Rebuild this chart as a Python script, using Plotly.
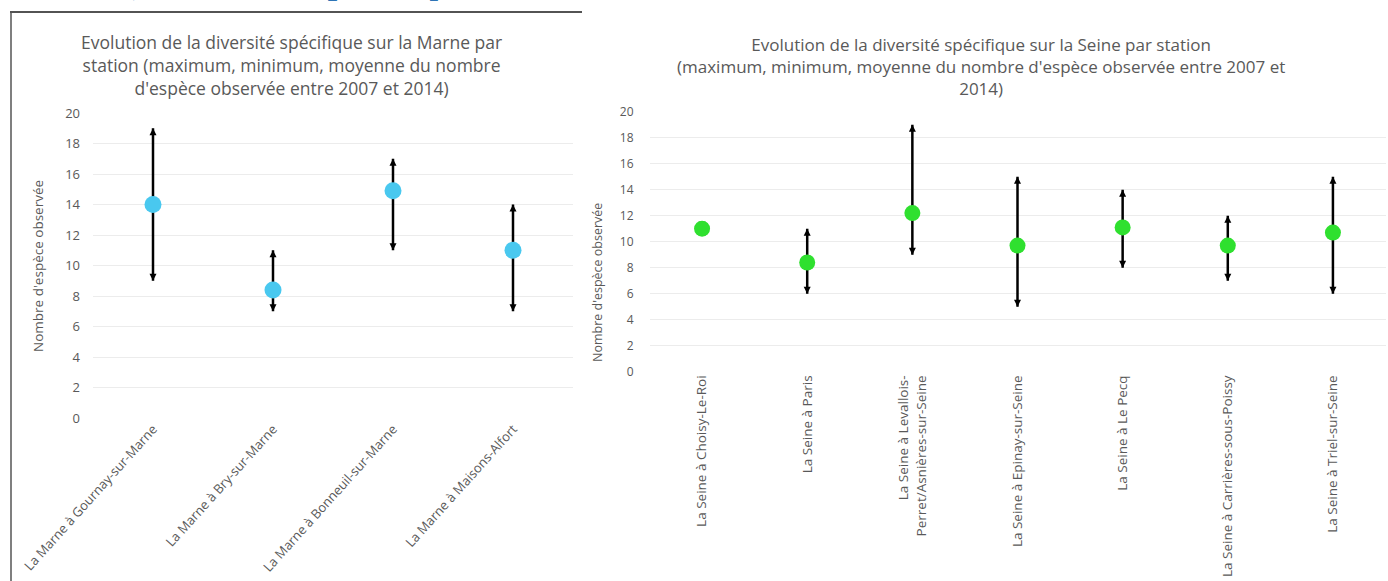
import plotly.graph_objects as go

# ---------------- data ----------------
marne_stations = [
    "La Marne à Gournay-sur-Marne",
    "La Marne à Bry-sur-Marne",
    "La Marne à Bonneuil-sur-Marne",
    "La Marne à Maisons-Alfort",
]
marne_mean = [14.0, 8.4, 14.9, 11.0]
marne_min = [9, 7, 11, 7]
marne_max = [19, 11, 17, 14]

seine_stations = [
    "La Seine à Choisy-Le-Roi",
    "La Seine à Paris",
    "La Seine à Levallois-<br>Perret/Asnières-sur-Seine",
    "La Seine à Epinay-sur-Seine",
    "La Seine à Le Pecq",
    "La Seine à Carrières-sous-Poissy",
    "La Seine à Triel-sur-Seine",
]
seine_mean = [11.0, 8.4, 12.2, 9.7, 11.1, 9.7, 10.7]
seine_min = [11, 6, 9, 5, 8, 7, 6]
seine_max = [11, 11, 19, 15, 14, 12, 15]

y_ticks = [0, 2, 4, 6, 8, 10, 12, 14, 16, 18, 20]

title_marne = ("Evolution de la diversité spécifique sur la Marne par<br>"
               "station (maximum, minimum, moyenne du nombre<br>"
               "d'espèce observée entre 2007 et 2014)")
title_seine = ("Evolution de la diversité spécifique sur la Seine par station<br>"
               "(maximum, minimum, moyenne du nombre d'espèce observée entre 2007 et<br>"
               "2014)")
y_title = "Nombre d'espèce observée"
heading = "b) Diversité spécifique"

FONT = "Open Sans"
GRAY = "#595959"
W, H = 1388, 581


def segs(cats, lo, hi):
    xs, ys = [], []
    for c, a, b in zip(cats, lo, hi):
        xs += [c, c, None]
        ys += [a, b, None]
    return xs, ys


fig = go.Figure()


def add_panel(cats, mean, lo, hi, color, xa, ya, msize):
    xs, ys = segs(cats, lo, hi)
    fig.add_trace(go.Scatter(x=xs, y=ys, mode="lines", xaxis=xa, yaxis=ya,
                             line=dict(color="black", width=2.5),
                             showlegend=False, hoverinfo="skip"))
    fig.add_trace(go.Scatter(x=cats, y=hi, mode="markers", xaxis=xa, yaxis=ya,
                             marker=dict(symbol="arrow-up", size=7, color="black"),
                             showlegend=False))
    fig.add_trace(go.Scatter(x=cats, y=lo, mode="markers", xaxis=xa, yaxis=ya,
                             marker=dict(symbol="arrow-down", size=7, color="black"),
                             showlegend=False))
    fig.add_trace(go.Scatter(x=cats, y=mean, mode="markers", xaxis=xa, yaxis=ya,
                             marker=dict(symbol="circle", size=msize, color=color),
                             showlegend=False))


add_panel(marne_stations, marne_mean, marne_min, marne_max, "#49C8EF", "x", "y", 17)
add_panel(seine_stations, seine_mean, seine_min, seine_max, "#2FE02F", "x2", "y2", 16)


def px_x(v):
    return v / W


def px_y(v):
    return 1 - v / H


def ax_common(size):
    return dict(showline=False, zeroline=False, ticks="", automargin=False,
                tickfont=dict(family=FONT, size=size, color=GRAY))


fig.update_layout(
    width=W, height=H,
    margin=dict(l=0, r=0, t=0, b=0, autoexpand=False),
    paper_bgcolor="white", plot_bgcolor="white",
    font=dict(family=FONT, color=GRAY),
    xaxis=dict(domain=[px_x(93), px_x(573)], anchor="y", type="category",
               range=[-0.5, len(marne_stations) - 0.5],
               showgrid=False, tickangle=-48, **ax_common(13)),
    yaxis=dict(domain=[px_y(418), px_y(113)], anchor="x", range=[0, 20],
               tickvals=y_ticks, showgrid=True, gridcolor="#ECECEC", gridwidth=1,
               ticklabelstandoff=12, **ax_common(13)),
    xaxis2=dict(domain=[px_x(649.5), px_x(1385.5)], anchor="y2", type="category",
                range=[-0.5, len(seine_stations) - 0.5],
                showgrid=False, tickangle=-90, **ax_common(13.5)),
    yaxis2=dict(domain=[px_y(371.7), px_y(111.7)], anchor="x2", range=[0, 20],
                tickvals=y_ticks, showgrid=True, gridcolor="#ECECEC", gridwidth=1,
                ticklabelstandoff=15, **ax_common(12)),
)

ann = [
    dict(text=title_marne, x=px_x(291), y=px_y(28), xref="paper", yref="paper",
         xanchor="center", yanchor="top", showarrow=False,
         font=dict(family=FONT, size=17.5, color=GRAY)),
    dict(text=title_seine, x=px_x(981), y=px_y(31), xref="paper", yref="paper",
         xanchor="center", yanchor="top", showarrow=False,
         font=dict(family=FONT, size=17, color=GRAY)),
    dict(text=y_title, x=px_x(38), y=px_y(266), xref="paper", yref="paper",
         textangle=-90, showarrow=False, xanchor="center", yanchor="middle",
         font=dict(family=FONT, size=13.5, color=GRAY)),
    dict(text=y_title, x=px_x(597), y=px_y(283), xref="paper", yref="paper",
         textangle=-90, showarrow=False, xanchor="center", yanchor="middle",
         font=dict(family=FONT, size=12.5, color=GRAY)),
    dict(text=heading, x=px_x(110), y=px_y(3), xref="paper", yref="paper",
         xanchor="left", yanchor="bottom", showarrow=False,
         font=dict(family="Liberation Serif", size=40, color="#2E74B5")),
]
fig.update_layout(annotations=ann)

fig.add_shape(type="line", xref="paper", yref="paper",
              x0=px_x(10), x1=px_x(582), y0=px_y(12), y1=px_y(12),
              line=dict(color="#1a1a1a", width=1.5))
fig.add_shape(type="line", xref="paper", yref="paper",
              x0=px_x(11), x1=px_x(11), y0=px_y(12), y1=0,
              line=dict(color="#555555", width=1.5))

fig.write_html("out.html", config={"displayModeBar": False},
               post_script="document.body.style.margin='0px';")
